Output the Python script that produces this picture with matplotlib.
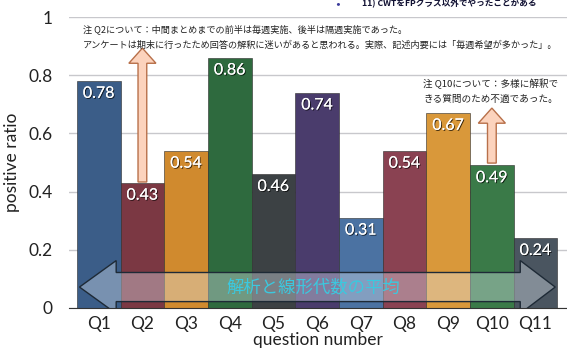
import numpy as np
import matplotlib
matplotlib.use("Agg")
import matplotlib.pyplot as plt
from matplotlib.patches import Polygon, FancyArrow
import matplotlib.patheffects as pe

plt.rcParams['font.family'] = ['Lato', 'Noto Sans CJK JP', 'DejaVu Sans']
JP = ['Noto Sans CJK JP', 'DejaVu Sans']

questions = ['Q1', 'Q2', 'Q3', 'Q4', 'Q5', 'Q6', 'Q7', 'Q8', 'Q9', 'Q10', 'Q11']
ratios = [0.78, 0.43, 0.54, 0.86, 0.46, 0.74, 0.31, 0.54, 0.67, 0.49, 0.24]
colors = ['#3b5d88', '#7b3843', '#d08a2e', '#2e6a3e', '#3c4144', '#4a3c6c',
          '#4b72a2', '#8a4252', '#d9983a', '#3a7a48', '#4a5560']
yticks = [0, 0.2, 0.4, 0.6, 0.8, 1]
ytick_labels = ['0', '0.2', '0.4', '0.6', '0.8', '1']

note_q2 = ("注 Q2について：中間まとめまでの前半は毎週実施、後半は隔週実施であった。\n"
           "アンケートは期末に行ったため回答の解釈に迷いがあると思われる。実際、記述内要には「毎週希望が多かった」。")
note_q10 = "注 Q10について：多様に解釈で\nきる質問のため不適であった。"
top_line = "11) CWTをFPクラス以外でやったことがある"
avg_label = "解析と線形代数の平均"

fig = plt.figure(figsize=(5.67, 3.53), dpi=100)
ax = fig.add_axes([69/567, 45/353, 1 - 69/567, 291/353])

x = np.arange(len(questions))
ax.bar(x, ratios, width=1.0, color=colors, edgecolor='#2a2a2a',
       linewidth=0.4, zorder=2)

ax.set_xlim(-0.68, 10.72)
ax.set_ylim(0, 1)
ax.set_yticks(yticks)
ax.set_yticklabels(ytick_labels)
ax.set_xticks(x)
ax.set_xticklabels(questions)
ax.tick_params(axis='both', length=0, labelsize=12.5, colors='#222222')
ax.tick_params(axis='y', pad=12)
ax.tick_params(axis='x', pad=6)
ax.grid(axis='y', color='#c8c8cc', linewidth=1.0, zorder=0)
for s in ['left', 'right', 'top']:
    ax.spines[s].set_visible(False)
ax.spines['bottom'].set_color('#333333')
ax.spines['bottom'].set_zorder(5)
ax.set_axisbelow(True)
ax.set_ylabel('positive ratio', fontsize=12.5, labelpad=6, color='#222222')
ax.set_xlabel('question number', fontsize=12.5, labelpad=0, color='#222222')

shadow = [pe.withSimplePatchShadow(offset=(0.7, -0.7), shadow_rgbFace='#000000', alpha=0.7),
          pe.Normal()]
for xi, v in zip(x, ratios):
    ax.text(xi, v - 0.02, f'{v:.2f}', ha='center', va='top', fontsize=11.5,
            color='white', zorder=4, path_effects=shadow)

# orange arrows
for xc, y0, ytip in [(1, 0.433, 0.893), (9, 0.498, 0.687)]:
    ax.add_patch(FancyArrow(xc, y0, 0, ytip - y0, width=0.2, head_width=0.62,
                            head_length=0.052, length_includes_head=True,
                            facecolor='#fcd3bd', edgecolor='#b8704a', linewidth=1.0, zorder=3))

# big double arrow
yc, hs, hh = 0.072, 0.05, 0.091
xl, xlb, xrb, xr = -0.44, 0.40, 9.65, 10.45
pts = [(xl, yc), (xlb, yc + hh), (xlb, yc + hs), (xrb, yc + hs), (xrb, yc + hh),
       (xr, yc), (xrb, yc - hh), (xrb, yc - hs), (xlb, yc - hs), (xlb, yc - hh)]
ax.add_patch(Polygon(pts, closed=True, facecolor='#e6eef8', alpha=0.36,
                     edgecolor='none', zorder=5))
ax.add_patch(Polygon(pts, closed=True, facecolor='none', edgecolor='#1e2a36',
                     linewidth=1.0, zorder=6))
ax.text(4.92, yc, avg_label, ha='center', va='center', fontsize=12.5, color='#3cc8de',
        zorder=10, family=JP)

# notes
fig.text(83/567, 1 - 37/353, note_q2, ha='left', va='center', fontsize=6.6,
         color='#222222', linespacing=1.9, family=JP)
fig.text(423/567, 1 - 91/353, note_q10, ha='left', va='center', fontsize=6.9,
         color='#222222', linespacing=1.75, family=JP)
fig.text(338/567, 1 - 4/353, '•', ha='center', va='center', fontsize=6, color='#3a3a9a')
fig.text(362/567, 1 - 4/353, top_line, ha='left', va='center', fontsize=6.2,
         color='#111133', fontweight='bold', family=JP)

fig.savefig('out.png', dpi=100)
